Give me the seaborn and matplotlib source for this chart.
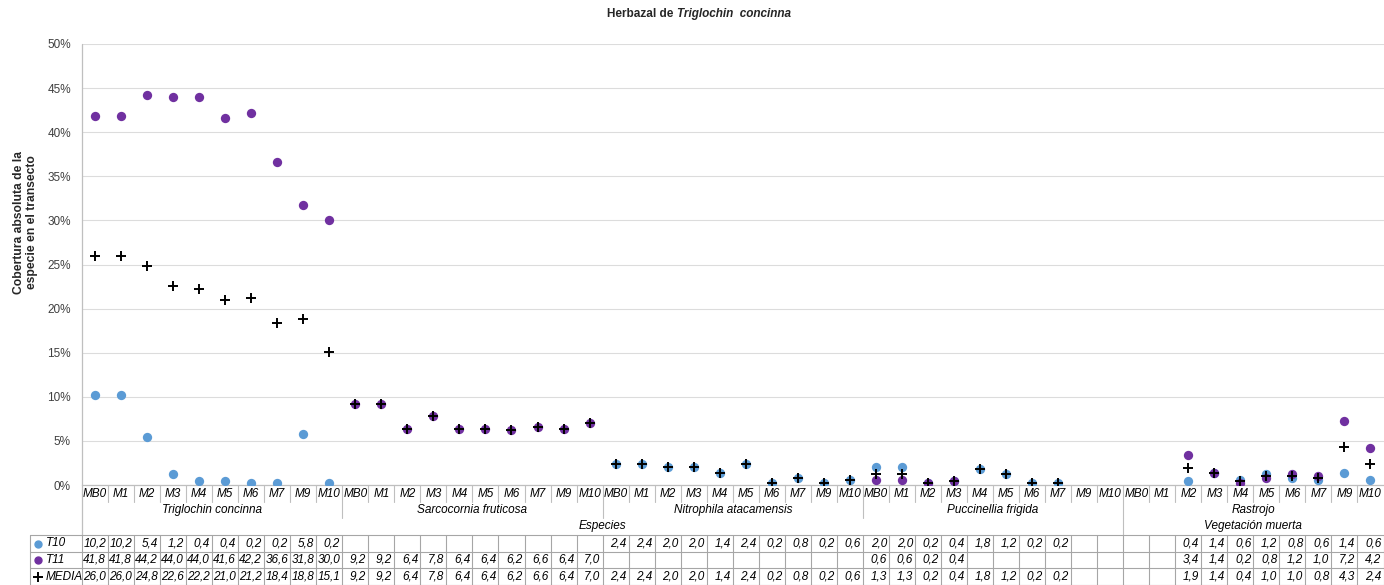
import numpy as np
import pandas as pd
import matplotlib
matplotlib.use("Agg")
import matplotlib.pyplot as plt
import matplotlib.transforms as mtransforms
from matplotlib.lines import Line2D
import seaborn as sns

# ---------------- data ----------------
groups = ["Triglochin concinna", "Sarcocornia fruticosa", "Nitrophila atacamensis",
          "Puccinellia frigida", "Rastrojo"]
supergroups = ["Especies", "Vegetación muerta"]
supergroup_span = [4, 1]  # number of groups in each supergroup
sites = ["MB0", "M1", "M2", "M3", "M4", "M5", "M6", "M7", "M9", "M10"]
nan = np.nan

t10_trig = [10.2, 10.2, 5.4, 1.2, 0.4, 0.4, 0.2, 0.2, 5.8, 0.2]
t10_sarc = [nan] * 10
t10_nitr = [2.4, 2.4, 2.0, 2.0, 1.4, 2.4, 0.2, 0.8, 0.2, 0.6]
t10_pucc = [2.0, 2.0, 0.2, 0.4, 1.8, 1.2, 0.2, 0.2, nan, nan]
t10_rast = [nan, nan, 0.4, 1.4, 0.6, 1.2, 0.8, 0.6, 1.4, 0.6]

t11_trig = [41.8, 41.8, 44.2, 44.0, 44.0, 41.6, 42.2, 36.6, 31.8, 30.0]
t11_sarc = [9.2, 9.2, 6.4, 7.8, 6.4, 6.4, 6.2, 6.6, 6.4, 7.0]
t11_nitr = [nan] * 10
t11_pucc = [0.6, 0.6, 0.2, 0.4, nan, nan, nan, nan, nan, nan]
t11_rast = [nan, nan, 3.4, 1.4, 0.2, 0.8, 1.2, 1.0, 7.2, 4.2]

med_trig = [26.0, 26.0, 24.8, 22.6, 22.2, 21.0, 21.2, 18.4, 18.8, 15.1]
med_sarc = [9.2, 9.2, 6.4, 7.8, 6.4, 6.4, 6.2, 6.6, 6.4, 7.0]
med_nitr = [2.4, 2.4, 2.0, 2.0, 1.4, 2.4, 0.2, 0.8, 0.2, 0.6]
med_pucc = [1.3, 1.3, 0.2, 0.4, 1.8, 1.2, 0.2, 0.2, nan, nan]
med_rast = [nan, nan, 1.9, 1.4, 0.4, 1.0, 1.0, 0.8, 4.3, 2.4]

series_names = ["T10", "T11", "MEDIA"]
t10 = t10_trig + t10_sarc + t10_nitr + t10_pucc + t10_rast
t11 = t11_trig + t11_sarc + t11_nitr + t11_pucc + t11_rast
media = med_trig + med_sarc + med_nitr + med_pucc + med_rast

yticks = [0, 5, 10, 15, 20, 25, 30, 35, 40, 45, 50]

# ---------------- styling ----------------
sns.set_style("white")
plt.rcParams["font.family"] = ["Liberation Sans", "DejaVu Sans"]

W, H = 1384, 585
fig = plt.figure(figsize=(W / 100, H / 100), dpi=100)
L, R, T, B = 82, 1383.5, 44, 485
ax = fig.add_axes([L / W, 1 - B / H, (R - L) / W, (B - T) / H])

n = len(groups) * len(sites)
pos = np.arange(n)
df = pd.DataFrame({"pos": pos, "T10": t10, "T11": t11, "MEDIA": media})

c_t10 = "#5b9bd5"
c_t11 = "#7030a0"
c_med = "#000000"

sns.scatterplot(data=df, x="pos", y="T10", ax=ax, color=c_t10, s=45,
                linewidth=0, marker="o", zorder=3, legend=False)
sns.scatterplot(data=df, x="pos", y="T11", ax=ax, color=c_t11, s=45,
                linewidth=0, marker="o", zorder=4, legend=False)
sns.scatterplot(data=df, x="pos", y="MEDIA", ax=ax, color=c_med, s=55,
                linewidth=1.4, marker="+", zorder=5, legend=False)

ax.set_xlim(-0.5, n - 0.5)
ax.set_ylim(0, 50)
ax.set_yticks(yticks)
ax.set_yticklabels([f"{v}%" for v in yticks], fontsize=8.5, color="#404040")
ax.set_xticks([])
ax.set_xlabel("")
ax.set_ylabel("")
ax.tick_params(axis="y", length=3, color="#bfbfbf", pad=5)
ax.yaxis.grid(True, color="#dcdcdc", linewidth=0.8)
for s in ["top", "right", "left"]:
    ax.spines[s].set_visible(False)
ax.spines["bottom"].set_color("#bfbfbf")
ax.spines["bottom"].set_linewidth(0.9)

def fy(ypx):
    return 1 - ypx / H

def fx(xpx):
    return xpx / W

# left axis line extended to the table
fig.add_artist(Line2D([fx(L), fx(L)], [fy(T), fy(535)], color="#bfbfbf", lw=0.9))

# title
fig.text(fx(677), fy(14), "Herbazal de ", ha="right", va="center",
         fontsize=8.5, fontweight="bold")
fig.text(fx(677), fy(14), "Triglochin  concinna", ha="left", va="center",
         fontsize=8.5, fontweight="bold", style="italic")

# y label
fig.text(fx(25.5), fy(222), "Cobertura absoluta de la\nespecie en el transecto",
         rotation=90, ha="center", va="center", fontsize=8.7, fontweight="bold",
         linespacing=1.2)

# ---------------- table below ----------------
bt = mtransforms.blended_transform_factory(ax.transData, fig.transFigure)
lc = "#bfbfbf"
tc = "#000000"

def vline(xd, y0, y1, color=lc):
    fig.add_artist(Line2D([xd, xd], [fy(y0), fy(y1)], color=color, lw=0.8,
                          transform=bt))

# site labels & short ticks
for i in range(n):
    ax.text(i, fy(494), sites[i % len(sites)], transform=bt, ha="center",
            va="center", fontsize=8.5, style="italic", color=tc)
for i in range(1, n):
    if i % len(sites) != 0:
        vline(i - 0.5, B, 502)

# group labels and separators
g = len(sites)
for k, name in enumerate(groups):
    ax.text(k * g + (g - 1) / 2, fy(510), name, transform=bt, ha="center",
            va="center", fontsize=8.5, style="italic", color=tc)
    if k > 0:
        vline(k * g - 0.5, B, 518)

# supergroup labels
start = 0
for name, span in zip(supergroups, supergroup_span):
    x0 = start * g - 0.5
    x1 = (start + span) * g - 0.5
    ax.text((x0 + x1) / 2, fy(526), name, transform=bt, ha="center",
            va="center", fontsize=8.5, style="italic", color=tc)
    if start > 0:
        vline(x0, 518, 535)
    start += span

# data table rows
row_lines = [535, 551.5, 568, 584.5]
row_centers = [543.5, 560, 576.5]
tcol = "#a6a6a6"
for yl in row_lines:
    fig.add_artist(Line2D([fx(30), fx(R)], [fy(yl), fy(yl)], color=tcol, lw=0.8))
fig.add_artist(Line2D([fx(30), fx(30)], [fy(535), fy(584.5)], color=tcol, lw=0.8))
for i in range(n + 1):
    vline(i - 0.5, 535, 584.5, color=tcol)

vals = [t10, t11, media]
for r, (name, arr) in enumerate(zip(series_names, vals)):
    yc = row_centers[r]
    for i, v in enumerate(arr):
        if not np.isnan(v):
            ax.text(i + 0.42, fy(yc), f"{v:.1f}".replace(".", ","), transform=bt,
                    ha="right", va="center", fontsize=8.5, style="italic", color=tc)
    fig.text(fx(46), fy(yc), name, ha="left", va="center", fontsize=8.5,
             style="italic", color=tc)

# legend keys in table
fig.add_artist(Line2D([fx(38)], [fy(row_centers[0])], marker="o", color=c_t10,
                      markersize=5, linestyle="none"))
fig.add_artist(Line2D([fx(38)], [fy(row_centers[1])], marker="o", color=c_t11,
                      markersize=5, linestyle="none"))
fig.add_artist(Line2D([fx(38)], [fy(row_centers[2])], marker="+", color=c_med,
                      markersize=7, markeredgewidth=1.4, linestyle="none"))

fig.savefig("out.png", dpi=100)
